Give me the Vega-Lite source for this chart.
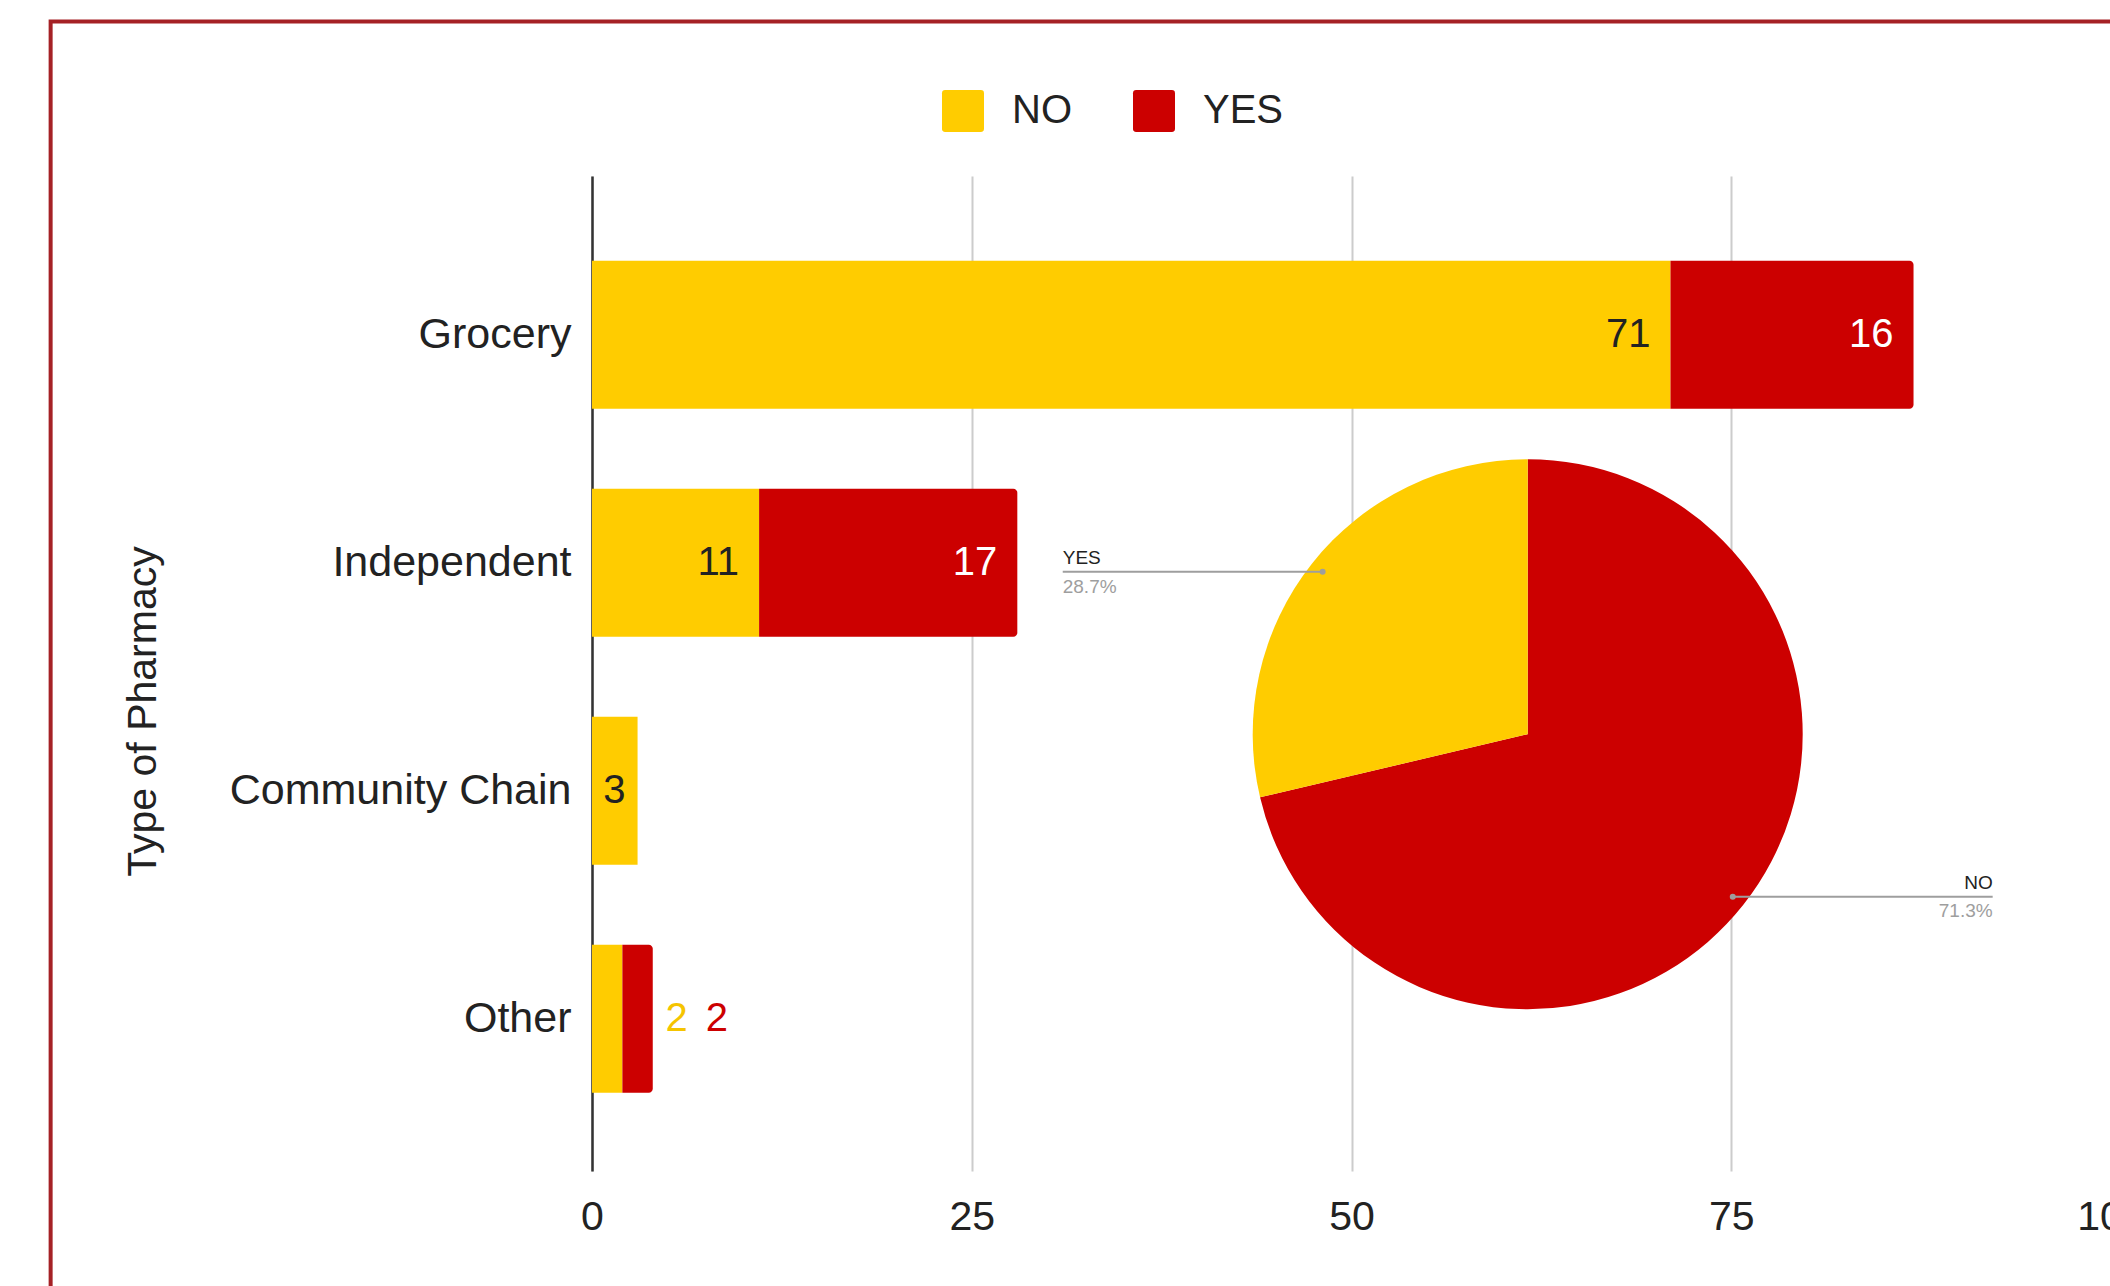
{
  "$schema": "https://vega.github.io/schema/vega-lite/v6.json",
  "width": 1519,
  "height": 995,
  "autosize": {"type": "none"},
  "padding": {"left": 592, "top": 176, "right": 0, "bottom": 115},
  "background": "#ffffff",
  "config": {
    "view": {"stroke": null},
    "font": "Liberation Sans",
    "text": {"font": "Liberation Sans"},
    "axisX": {"grid": true, "gridColor": "#cccccc", "gridWidth": 2, "domain": false, "ticks": false, "tickSize": 0, "labelPadding": 26, "labelFontSize": 41, "labelColor": "#222222", "labelFlush": false, "labelOverlap": false},
    "axisY": {"grid": false, "domain": true, "domainColor": "#333333", "domainWidth": 2.5, "ticks": false, "tickSize": 0, "labelPadding": 21, "labelFontSize": 43, "labelColor": "#222222", "labelLimit": 500, "titleFontSize": 41, "titleFontWeight": "normal", "titleColor": "#222222", "titleX": -437, "titleY": 535, "titleAngle": -90, "titleBaseline": "alphabetic", "titleAlign": "center", "zindex": 1}
  },
  "datasets": {
    "bars": [
      {"type": "Grocery", "answer": "NO", "count": 71},
      {"type": "Grocery", "answer": "YES", "count": 16},
      {"type": "Independent", "answer": "NO", "count": 11},
      {"type": "Independent", "answer": "YES", "count": 17},
      {"type": "Community Chain", "answer": "NO", "count": 3},
      {"type": "Community Chain", "answer": "YES", "count": 0},
      {"type": "Other", "answer": "NO", "count": 2},
      {"type": "Other", "answer": "YES", "count": 2}
    ],
    "pie": [
      {"slice": "NO", "count": 87, "share": 0.713},
      {"slice": "YES", "count": 35, "share": 0.287}
    ]
  },
  "resolve": {"scale": {"y": "independent", "color": "independent"}},
  "layer": [
    {
      "data": {"name": "bars"},
      "transform": [
        {"stack": "count", "groupby": ["type"], "sort": [{"field": "answer", "order": "ascending"}], "as": ["v0", "v1"]}
      ],
      "encoding": {
        "y": {
          "field": "type", "type": "nominal",
          "sort": ["Grocery", "Independent", "Community Chain", "Other"],
          "scale": {"paddingInner": 0.351, "paddingOuter": 0.357, "align": 0.52},
          "axis": {"title": "Type of Pharmacy"}
        }
      },
      "layer": [
        {
          "transform": [{"filter": "datum.answer == 'NO'"}],
          "mark": {"type": "bar"},
          "encoding": {
            "x": {"field": "v0", "type": "quantitative", "title": null, "scale": {"domain": [0, 100]}, "axis": {"values": [0, 25, 50, 75, 100], "title": null}},
            "x2": {"field": "v1"},
            "color": {
              "field": "answer", "type": "nominal",
              "scale": {"domain": ["NO", "YES"], "range": ["#ffcc00", "#cc0000"]},
              "legend": {
                "orient": "none", "legendX": 350, "legendY": -86, "direction": "horizontal", "title": null,
                "symbolType": "M-0.85,-1 L0.85,-1 Q1,-1 1,-0.85 L1,0.85 Q1,1 0.85,1 L-0.85,1 Q-1,1 -1,0.85 L-1,-0.85 Q-1,-1 -0.85,-1 Z",
                "symbolSize": 1764, "symbolStrokeWidth": 0, "symbolOpacity": 1,
                "labelFontSize": 40, "labelColor": "#222222", "labelOffset": 28, "columnPadding": 61, "padding": 0
              }
            }
          }
        },
        {
          "transform": [{"filter": "datum.answer == 'YES' && datum.count > 0"}],
          "mark": {"type": "bar", "cornerRadiusTopRight": 4, "cornerRadiusBottomRight": 4},
          "encoding": {
            "x": {"field": "v0", "type": "quantitative", "title": null, "scale": {"domain": [0, 100]}},
            "x2": {"field": "v1"},
            "color": {"field": "answer", "type": "nominal"}
          }
        },
        {
          "transform": [{"filter": "(datum.type == 'Grocery' || datum.type == 'Independent') && datum.count > 0"}],
          "mark": {"type": "text", "align": "right", "baseline": "middle", "dx": -20, "fontSize": 40},
          "encoding": {
            "x": {"field": "v1", "type": "quantitative", "title": null, "scale": {"domain": [0, 100]}},
            "text": {"field": "count", "type": "quantitative"},
            "color": {"condition": {"test": "datum.answer == 'NO'", "value": "#222222"}, "value": "#ffffff"}
          }
        },
        {
          "transform": [{"filter": "datum.type == 'Community Chain' && datum.count > 0"}],
          "mark": {"type": "text", "align": "right", "baseline": "middle", "dx": -12, "fontSize": 40, "color": "#222222"},
          "encoding": {
            "x": {"field": "v1", "type": "quantitative", "title": null, "scale": {"domain": [0, 100]}},
            "text": {"field": "count", "type": "quantitative"}
          }
        },
        {
          "transform": [{"filter": "datum.type == 'Other' && datum.answer == 'NO'"}],
          "mark": {"type": "text", "align": "left", "baseline": "middle", "dx": 43, "fontSize": 40, "color": "#f5c400"},
          "encoding": {
            "x": {"field": "v1", "type": "quantitative", "title": null, "scale": {"domain": [0, 100]}},
            "text": {"field": "count", "type": "quantitative"}
          }
        },
        {
          "transform": [{"filter": "datum.type == 'Other' && datum.answer == 'YES'"}],
          "mark": {"type": "text", "align": "left", "baseline": "middle", "dx": 53, "fontSize": 40, "color": "#cc0000"},
          "encoding": {
            "x": {"field": "v1", "type": "quantitative", "title": null, "scale": {"domain": [0, 100]}},
            "text": {"field": "count", "type": "quantitative"}
          }
        }
      ]
    },
    {
      "data": {"name": "pie"},
      "layer": [
        {
          "data": {"values": [{"frame": "border"}]},
          "mark": {"type": "rect", "filled": false, "stroke": "#a52125", "strokeWidth": 4},
          "encoding": {
            "x": {"datum": -35.64, "type": "quantitative", "title": null, "scale": {"domain": [0, 100]}},
            "x2": {"datum": 130},
            "y": {"datum": 115.52, "type": "quantitative", "scale": {"domain": [0, 100]}, "axis": null},
            "y2": {"datum": -20}
          }
        },
        {
          "mark": {"type": "arc", "radius": 275},
          "encoding": {
            "x": {"datum": 61.6, "type": "quantitative", "title": null, "scale": {"domain": [0, 100]}},
            "y": {"datum": 43.9, "type": "quantitative", "scale": {"domain": [0, 100]}, "axis": null},
            "theta": {"field": "count", "type": "quantitative", "stack": true},
            "order": {"field": "slice", "sort": "ascending"},
            "color": {"field": "slice", "type": "nominal", "scale": {"domain": ["NO", "YES"], "range": ["#cc0000", "#ffcc00"]}, "legend": null}
          }
        },
        {
          "transform": [{"filter": "datum.slice == 'YES'"}],
          "layer": [
            {
              "mark": {"type": "rule", "color": "#9e9e9e", "strokeWidth": 2},
              "encoding": {
                "x": {"datum": 30.99, "type": "quantitative", "title": null, "scale": {"domain": [0, 100]}},
                "x2": {"datum": 48.1},
                "y": {"datum": 60.23, "type": "quantitative", "scale": {"domain": [0, 100]}, "axis": null}
              }
            },
            {
              "mark": {"type": "point", "filled": true, "size": 36, "color": "#9e9e9e", "opacity": 1},
              "encoding": {
                "x": {"datum": 48.1, "type": "quantitative", "title": null, "scale": {"domain": [0, 100]}},
                "y": {"datum": 60.23, "type": "quantitative", "scale": {"domain": [0, 100]}, "axis": null}
              }
            },
            {
              "mark": {"type": "text", "align": "left", "baseline": "alphabetic", "fontSize": 19, "color": "#222222"},
              "encoding": {
                "x": {"datum": 30.99, "type": "quantitative", "title": null, "scale": {"domain": [0, 100]}},
                "y": {"datum": 61.0, "type": "quantitative", "scale": {"domain": [0, 100]}, "axis": null},
                "text": {"field": "slice", "type": "nominal"}
              }
            },
            {
              "mark": {"type": "text", "align": "left", "baseline": "alphabetic", "fontSize": 19, "color": "#9e9e9e"},
              "encoding": {
                "x": {"datum": 30.99, "type": "quantitative", "title": null, "scale": {"domain": [0, 100]}},
                "y": {"datum": 58.12, "type": "quantitative", "scale": {"domain": [0, 100]}, "axis": null},
                "text": {"field": "share", "type": "quantitative", "format": ".1%"}
              }
            }
          ]
        },
        {
          "transform": [{"filter": "datum.slice == 'NO'"}],
          "layer": [
            {
              "mark": {"type": "rule", "color": "#9e9e9e", "strokeWidth": 2},
              "encoding": {
                "x": {"datum": 75.1, "type": "quantitative", "title": null, "scale": {"domain": [0, 100]}},
                "x2": {"datum": 92.21},
                "y": {"datum": 27.57, "type": "quantitative", "scale": {"domain": [0, 100]}, "axis": null}
              }
            },
            {
              "mark": {"type": "point", "filled": true, "size": 36, "color": "#9e9e9e", "opacity": 1},
              "encoding": {
                "x": {"datum": 75.1, "type": "quantitative", "title": null, "scale": {"domain": [0, 100]}},
                "y": {"datum": 27.57, "type": "quantitative", "scale": {"domain": [0, 100]}, "axis": null}
              }
            },
            {
              "mark": {"type": "text", "align": "right", "baseline": "alphabetic", "fontSize": 19, "color": "#222222"},
              "encoding": {
                "x": {"datum": 92.21, "type": "quantitative", "title": null, "scale": {"domain": [0, 100]}},
                "y": {"datum": 28.34, "type": "quantitative", "scale": {"domain": [0, 100]}, "axis": null},
                "text": {"field": "slice", "type": "nominal"}
              }
            },
            {
              "mark": {"type": "text", "align": "right", "baseline": "alphabetic", "fontSize": 19, "color": "#9e9e9e"},
              "encoding": {
                "x": {"datum": 92.21, "type": "quantitative", "title": null, "scale": {"domain": [0, 100]}},
                "y": {"datum": 25.53, "type": "quantitative", "scale": {"domain": [0, 100]}, "axis": null},
                "text": {"field": "share", "type": "quantitative", "format": ".1%"}
              }
            }
          ]
        }
      ]
    }
  ]
}
